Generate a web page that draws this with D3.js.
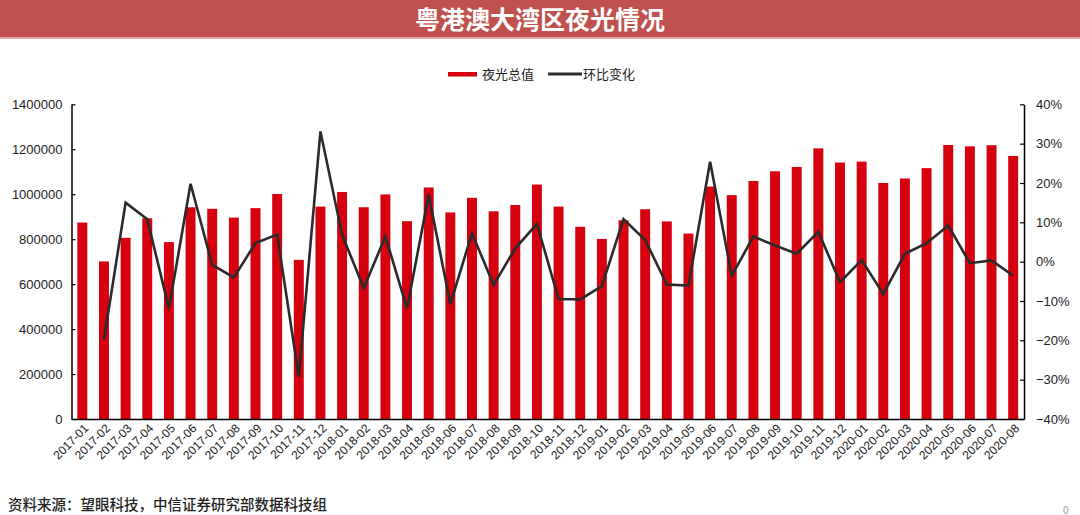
<!DOCTYPE html>
<html><head><meta charset="utf-8">
<script src="https://cdn.jsdelivr.net/npm/d3@7"></script>
<style>
html,body{margin:0;padding:0;background:#fff;}
svg{display:block;}
</style></head>
<body>
<svg id="chart" width="1080" height="515"></svg>
<script>
const months = ["2017-01","2017-02","2017-03","2017-04","2017-05","2017-06","2017-07","2017-08","2017-09","2017-10","2017-11","2017-12",
"2018-01","2018-02","2018-03","2018-04","2018-05","2018-06","2018-07","2018-08","2018-09","2018-10","2018-11","2018-12",
"2019-01","2019-02","2019-03","2019-04","2019-05","2019-06","2019-07","2019-08","2019-09","2019-10","2019-11","2019-12",
"2020-01","2020-02","2020-03","2020-04","2020-05","2020-06","2020-07","2020-08"];
const nightLight = [874000,701000,806000,893000,787000,942000,935000,896000,938000,1001000,708000,945000,
1010000,942000,999000,880000,1030000,919000,984000,924000,952000,1043000,945000,855000,
801000,884000,933000,879000,825000,1034000,996000,1059000,1102000,1121000,1204000,1141000,
1145000,1050000,1070000,1116000,1219000,1213000,1218000,1170000];
const momChange = [null,-0.198,0.150,0.108,-0.119,0.198,-0.008,-0.040,0.047,0.069,-0.293,0.331,
0.068,-0.067,0.064,-0.119,0.170,-0.108,0.072,-0.059,0.034,0.096,-0.095,-0.096,
-0.062,0.108,0.055,-0.058,-0.061,0.254,-0.036,0.064,0.041,0.020,0.076,-0.052,
0.004,-0.082,0.020,0.047,0.092,-0.004,0.003,-0.036];
const leftTicks = [0,200000,400000,600000,800000,1000000,1200000,1400000];
const rightTicks = [-0.4,-0.3,-0.2,-0.1,0,0.1,0.2,0.3,0.4];
const titleText = "粤港澳大湾区夜光情况";
const legendLabels = ["夜光总值","环比变化"];
const sourceText = "资料来源：望眼科技，中信证券研究部数据科技组";

const svg = d3.select("#chart");
const L = 71.5, R = 1024, T = 104.3, B = 419;
const latin = "'Liberation Sans', Arial, sans-serif";
const cjk = "'Noto Sans CJK SC', 'Noto Sans', sans-serif";

// title bar
svg.append("rect").attr("x",0).attr("y",0).attr("width",1080).attr("height",37.5).attr("fill","#C0504D");
svg.append("rect").attr("x",0).attr("y",37.5).attr("width",1080).attr("height",1.5).attr("fill","#E2AFAE");
svg.append("text").attr("x",540).attr("y",29).attr("text-anchor","middle")
  .attr("font-family",cjk).attr("font-weight","bold").attr("font-size",25).attr("fill","#fff").text(titleText);

const x = d3.scaleBand().domain(months).range([L,R]).paddingInner(0.54).paddingOuter(0.27);
const yL = d3.scaleLinear().domain([0,1400000]).range([B,T]);
const yR = d3.scaleLinear().domain([-0.4,0.4]).range([B,T]);

// bars
svg.append("g").selectAll("rect").data(months).join("rect")
  .attr("x",d=>x(d)).attr("width",x.bandwidth())
  .attr("y",(d,i)=>yL(nightLight[i])).attr("height",(d,i)=>B-yL(nightLight[i]))
  .attr("fill","#D7000F");

// line
const line = d3.line().defined(d=>d.v!=null).x(d=>x(d.m)+x.bandwidth()/2).y(d=>yR(d.v));
svg.append("path").datum(months.map((m,i)=>({m,v:momChange[i]})))
  .attr("d",line).attr("fill","none").attr("stroke","#2b2b2b").attr("stroke-width",2.6).attr("stroke-linejoin","miter");

// left axis
const gL = svg.append("g").attr("transform",`translate(${L},0)`)
  .call(d3.axisLeft(yL).tickValues(leftTicks).tickFormat(d3.format("d")).tickSizeInner(-4).tickSizeOuter(0).tickPadding(9));
gL.select(".domain").attr("stroke","#000").attr("stroke-width",1.5);
gL.selectAll(".tick line").attr("stroke","#000").attr("stroke-width",1.2);
gL.selectAll("text").attr("font-family",latin).attr("font-size",13).attr("fill","#222");

// right axis
const gR = svg.append("g").attr("transform",`translate(${R},0)`)
  .call(d3.axisRight(yR).tickValues(rightTicks).tickFormat(d3.format(".0%")).tickSizeInner(-4).tickSizeOuter(0).tickPadding(12));
gR.select(".domain").attr("stroke","#000").attr("stroke-width",1.5);
gR.selectAll(".tick line").attr("stroke","#000").attr("stroke-width",1.2);
gR.selectAll("text").attr("font-family",latin).attr("font-size",13).attr("fill","#222");

// bottom axis
const gB = svg.append("g").attr("transform",`translate(0,${B})`)
  .call(d3.axisBottom(x).tickSize(0).tickSizeOuter(0));
gB.select(".domain").attr("stroke","#000").attr("stroke-width",1.5);
gB.selectAll("text").attr("font-family",latin).attr("font-size",12).attr("fill","#222")
  .attr("text-anchor","end").attr("dy",0).attr("y",0)
  .attr("transform",`translate(${x.bandwidth()/2+2},10) rotate(-45)`);

// legend
const lg = svg.append("g");
lg.append("rect").attr("x",448).attr("y",72).attr("width",29).attr("height",4.5).attr("fill","#D7000F");
lg.append("text").attr("x",482).attr("y",79).attr("font-family",cjk).attr("font-size",13).attr("fill","#222").text(legendLabels[0]);
lg.append("line").attr("x1",548).attr("x2",582).attr("y1",74).attr("y2",74).attr("stroke","#2b2b2b").attr("stroke-width",3);
lg.append("text").attr("x",583).attr("y",79).attr("font-family",cjk).attr("font-size",13).attr("fill","#222").text(legendLabels[1]);

// source
svg.append("text").attr("x",8).attr("y",510).attr("font-family",cjk).attr("font-size",14.5).attr("font-weight",500).attr("fill","#222").text(sourceText);
svg.append("text").attr("x",1063).attr("y",514).attr("font-family",latin).attr("font-size",10).attr("fill","#999").text("0");
</script>
</body></html>
